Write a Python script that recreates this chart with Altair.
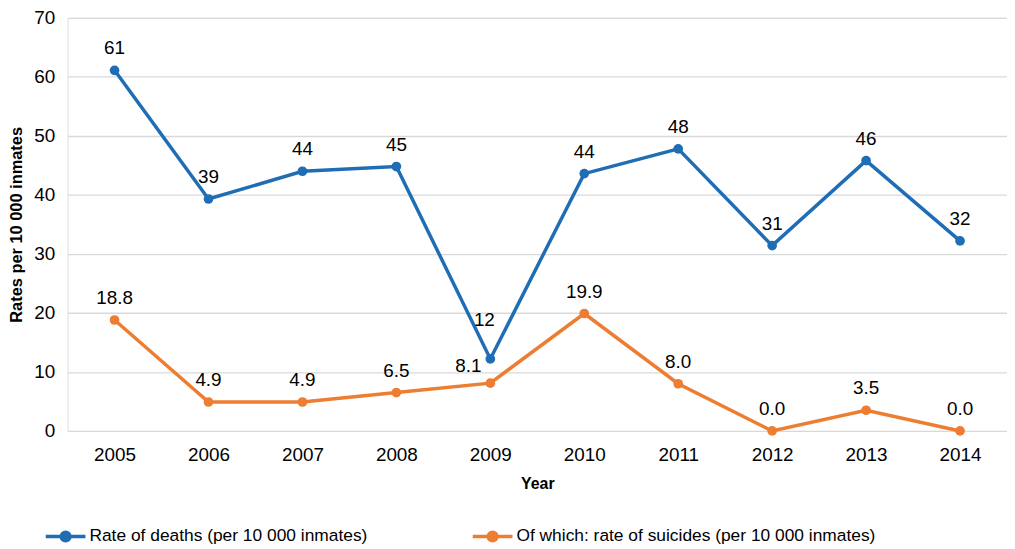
import altair as alt
import pandas as pd

years = ["2005", "2006", "2007", "2008", "2009", "2010", "2011", "2012", "2013", "2014"]
deaths = [61.1, 39.3, 44.0, 44.8, 12.2, 43.6, 47.8, 31.4, 45.8, 32.2]
suicides = [18.8, 4.9, 4.9, 6.5, 8.1, 19.9, 8.0, 0.0, 3.5, 0.0]
series_names = ["Rate of deaths (per 10 000 inmates)",
                "Of which: rate of suicides (per 10 000 inmates)"]
series_colors = ["#1f6db4", "#ed7d31"]

rows = []
for y, d, s in zip(years, deaths, suicides):
    rows.append({"Year": y, "series": series_names[0], "value": d, "label": f"{d:.0f}"})
    rows.append({"Year": y, "series": series_names[1], "value": s, "label": f"{s:.1f}"})
df = pd.DataFrame(rows)

sans = "Liberation Sans"

x = alt.X("Year:N", title="Year", sort=years,
          scale=alt.Scale(paddingInner=0, paddingOuter=0),
          axis=alt.Axis(labelAngle=0, labelFont=sans, labelFontSize=19, labelColor="#000",
                        labelPadding=15, ticks=False, domain=False,
                        titleFont=sans, titleFontSize=16, titleFontWeight="bold",
                        titleColor="#000", titlePadding=11))
y = alt.Y("value:Q", title="Rates per 10 000 inmates",
          scale=alt.Scale(domain=[0, 70]),
          axis=alt.Axis(values=list(range(0, 71, 10)), labelFont=sans, labelFontSize=19,
                        labelColor="#000", labelPadding=13, ticks=False, domain=False,
                        gridColor="#d9d9d9", gridWidth=1.3,
                        titleFont=sans, titleFontSize=16.5, titleFontWeight="bold",
                        titleColor="#000", titlePadding=9))
color = alt.Color("series:N", sort=series_names,
                  scale=alt.Scale(domain=series_names, range=series_colors),
                  legend=alt.Legend(title=None, orient="none", direction="horizontal",
                                    legendX=-24, legendY=500,
                                    labelFont=sans, labelFontSize=17.5, labelColor="#000",
                                    labelLimit=500,
                                    symbolType="M-1,0L1,0M0.22,0A0.22,0.22,0,1,1,-0.22,0A0.22,0.22,0,1,1,0.22,0Z",
                                    symbolSize=1600, symbolStrokeWidth=3.5,
                                    labelOffset=2, columnPadding=98))

base = alt.Chart(df).encode(x=x, y=y)
lines = base.mark_line(strokeWidth=3.5).encode(color=color)
points = base.mark_point(filled=True, size=95, opacity=1).encode(color=color)
text_common = dict(fontSize=19, font=sans, color="#000", baseline="bottom")
labels = base.mark_text(dy=-12, **text_common).encode(text="label:N").transform_filter(
    alt.datum.Year != "2009")
lab09d = base.mark_text(dx=-6, dy=-29, **text_common).encode(text="label:N").transform_filter(
    (alt.datum.Year == "2009") & (alt.datum.series == series_names[0]))
lab09s = base.mark_text(dx=-22, dy=-7, **text_common).encode(text="label:N").transform_filter(
    (alt.datum.Year == "2009") & (alt.datum.series == series_names[1]))

chart = alt.layer(lines, points, labels, lab09d, lab09s).properties(
    width=946, height=416,
    autosize=alt.AutoSizeParams(type="none"),
    padding={"left": 60, "top": 8, "right": 0, "bottom": 116},
).configure_view(stroke=None).configure(background="white")

chart.save("out.html", embed_options={"renderer": "svg", "actions": False})
